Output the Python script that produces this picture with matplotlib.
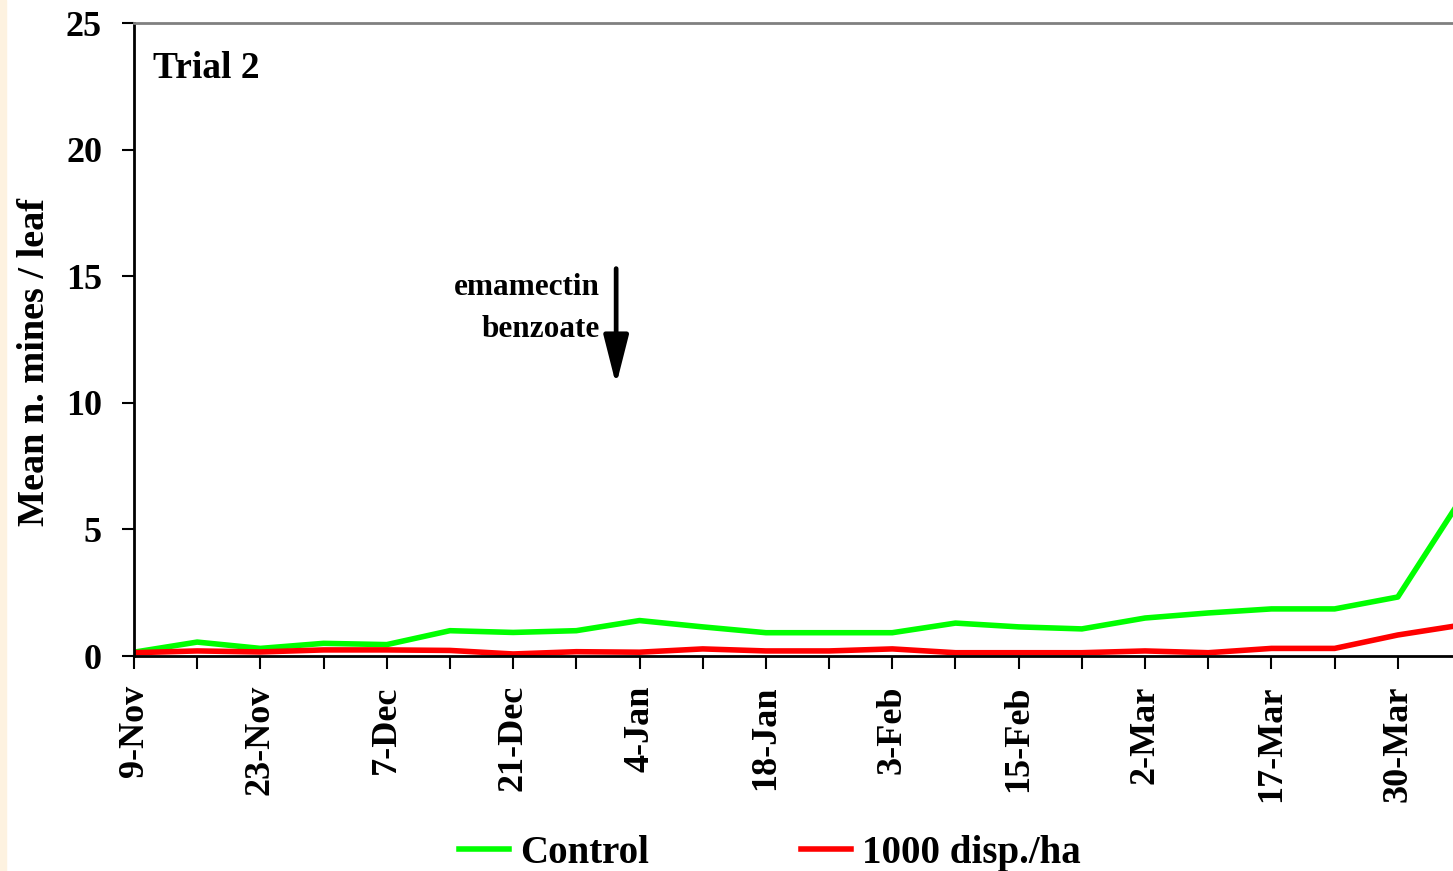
import numpy as np
import matplotlib
matplotlib.use("Agg")
import matplotlib.pyplot as plt
from matplotlib.patches import Rectangle

# sampling dates (only every other one is labelled on the axis)
date_labels = ["9-Nov", "23-Nov", "7-Dec", "21-Dec", "4-Jan", "18-Jan",
               "3-Feb", "15-Feb", "2-Mar", "17-Mar", "30-Mar"]

control = [0.15, 0.55, 0.3, 0.5, 0.45, 1.0, 0.93, 1.0, 1.4, 1.15, 0.92,
           0.92, 0.92, 1.3, 1.15, 1.07, 1.5, 1.7, 1.86, 1.86, 2.33, 6.2]
disp1000 = [0.13, 0.2, 0.16, 0.24, 0.24, 0.22, 0.08, 0.17, 0.15, 0.28, 0.2,
            0.2, 0.28, 0.13, 0.13, 0.13, 0.2, 0.13, 0.3, 0.3, 0.83, 1.22]

plt.rcParams['font.family'] = ['Liberation Serif', 'DejaVu Serif']
plt.rcParams['font.weight'] = 'bold'

W, H = 1453, 871
fig = plt.figure(figsize=(W / 100, H / 100), dpi=100)
fig.patches.append(Rectangle((0, 0), 6 / W, 1, transform=fig.transFigure,
                             color='#fdf2e0', zorder=0))

# axes runs a bit past the right edge of the picture (cropped original)
ax = fig.add_axes([134 / W, 1 - 656 / H, (1461 - 134) / W, (656 - 23) / H])

x = np.arange(len(control))
ax.plot(x, control, color='#00ff00', lw=4.0, label='Control')
ax.plot(x, disp1000, color='#ff0000', lw=4.0, label='1000 disp./ha')

ax.set_xlim(0, len(control) - 1)
ax.set_ylim(0, 25)
ax.set_yticks([0, 5, 10, 15, 20, 25])
ax.set_xticks(x)
ax.set_xticklabels([date_labels[i // 2] if i % 2 == 0 else "" for i in x],
                   rotation=90, fontsize=26, fontweight='bold')
ax.tick_params(axis='x', direction='out', length=9, width=1.5, pad=12)
ax.tick_params(axis='y', direction='out', length=9, width=1.5, pad=14, labelsize=26)
for lab in ax.get_yticklabels():
    lab.set_fontweight('bold')

ax.spines['left'].set_linewidth(2)
ax.spines['bottom'].set_linewidth(2)
ax.spines['top'].set_color('#808080')
ax.spines['top'].set_linewidth(2)
ax.spines['right'].set_visible(False)

ax.text(0.0143, 0.928, "Trial 2", transform=ax.transAxes, fontsize=27,
        fontweight='bold', va='center', ha='left')

ax.text(7.37, 14.55, "emamectin", fontsize=22.5, fontweight='bold', ha='right', va='center')
ax.text(7.37, 12.9, "benzoate", fontsize=22.5, fontweight='bold', ha='right', va='center')
ax.annotate("", xy=(7.63, 10.7), xytext=(7.63, 15.3),
            arrowprops=dict(arrowstyle='-|>,head_length=1.5,head_width=0.38',
                            mutation_scale=20, lw=3.4, color='black',
                            shrinkA=0, shrinkB=0))

fig.text(35 / W, 1 - 362 / H, "Mean n. mines / leaf", rotation=90,
         fontsize=27.5, fontweight='bold', ha='center', va='center')

fig.legend(loc='center', bbox_to_anchor=(770 / W, 1 - 853 / H), ncol=2,
           frameon=False, handlelength=1.3, handletextpad=0.28,
           columnspacing=3.9, prop={'weight': 'bold', 'size': 28})

fig.savefig("out.png", dpi=100)
